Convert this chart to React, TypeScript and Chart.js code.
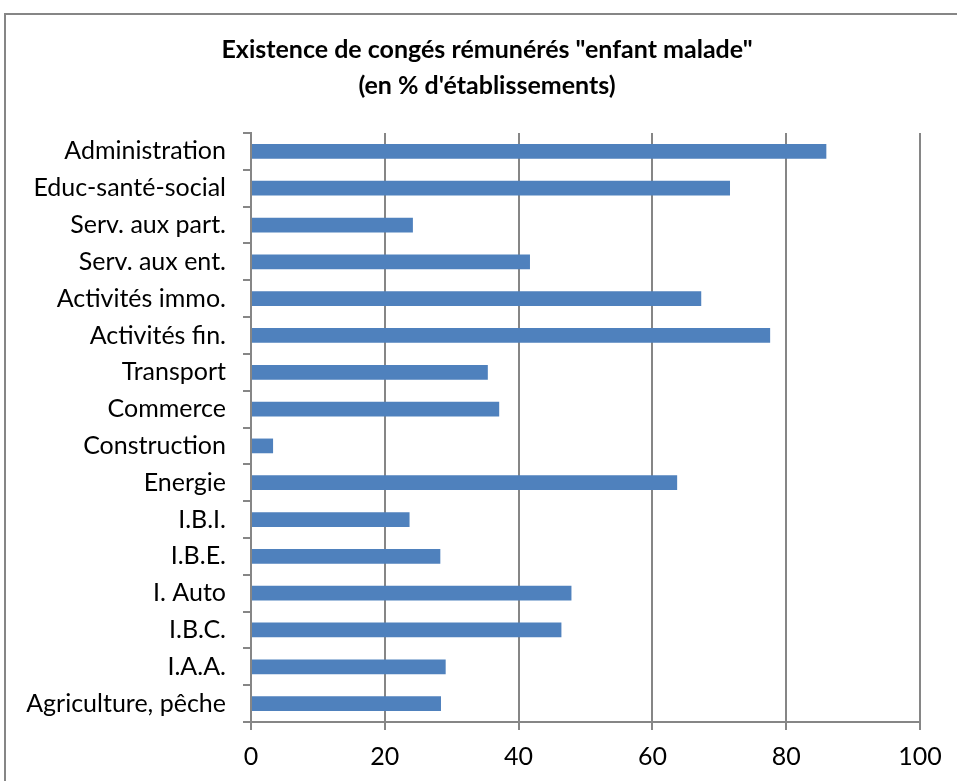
import React, { useEffect, useRef } from 'react';
import { Chart, registerables } from 'chart.js';

Chart.register(...registerables);

const categories = [
  'Administration',
  'Educ-santé-social',
  'Serv. aux part.',
  'Serv. aux ent.',
  'Activités immo.',
  'Activités fin.',
  'Transport',
  'Commerce',
  'Construction',
  'Energie',
  'I.B.I.',
  'I.B.E.',
  'I. Auto',
  'I.B.C.',
  'I.A.A.',
  'Agriculture, pêche',
];

const values = [86.0, 71.6, 24.2, 41.7, 67.3, 77.6, 35.4, 37.1, 3.3, 63.7, 23.7, 28.3, 47.9, 46.4, 29.1, 28.4];

const titleLines = ['Existence de congés rémunérés "enfant malade"', "(en % d'établissements)"];

const xMin = 0;
const xMax = 100;
const xStep = 20;

const FONT = 'Lato, "Open Sans", sans-serif';
const GRID = '#868686';

const framePlugin = {
  id: 'frameAndTitle',
  beforeDraw(chart: any) {
    const { ctx, width, height } = chart;
    ctx.save();
    ctx.fillStyle = '#ffffff';
    ctx.fillRect(0, 0, width, height);
    ctx.strokeStyle = GRID;
    ctx.lineWidth = 2;
    ctx.beginPath();
    ctx.moveTo(5, height + 5);
    ctx.lineTo(5, 14);
    ctx.lineTo(width + 5, 14);
    ctx.stroke();
    ctx.restore();
  },
  afterDraw(chart: any) {
    const { ctx } = chart;
    ctx.save();
    ctx.fillStyle = '#000000';
    ctx.font = `bold 25px ${FONT}`;
    ctx.textAlign = 'center';
    ctx.textBaseline = 'middle';
    ctx.fillText(titleLines[0], 487, 50);
    ctx.fillText(titleLines[1], 487, 86);
    ctx.restore();
  },
};

export default function App() {
  const canvasRef = useRef<HTMLCanvasElement | null>(null);

  useEffect(() => {
    if (!canvasRef.current) return;
    const chart = new Chart(canvasRef.current, {
      type: 'bar',
      data: {
        labels: categories,
        datasets: [
          {
            data: values,
            backgroundColor: '#4F81BD',
            borderWidth: 0,
            barPercentage: 0.4,
            categoryPercentage: 1,
          },
        ],
      },
      options: {
        indexAxis: 'y',
        animation: false,
        responsive: false,
        maintainAspectRatio: false,
        layout: { padding: { top: 133, right: 37, left: 0, bottom: 0 } },
        plugins: {
          legend: { display: false },
          title: { display: false },
          tooltip: { enabled: false },
        },
        scales: {
          x: {
            type: 'linear',
            position: 'bottom',
            min: xMin,
            max: xMax,
            ticks: {
              stepSize: xStep,
              color: '#000000',
              font: { family: FONT, size: 25 },
              padding: 12,
            },
            grid: {
              color: GRID,
              lineWidth: 2,
              tickLength: 8,
              drawTicks: true,
            },
            border: { display: true, color: GRID, width: 2 },
            afterFit: (scale: any) => {
              scale.height = 59;
            },
          },
          y: {
            type: 'category',
            ticks: {
              color: '#000000',
              font: { family: FONT, size: 25 },
              padding: 17,
              autoSkip: false,
            },
            grid: {
              offset: true,
              drawOnChartArea: false,
              drawTicks: true,
              tickLength: 8,
              color: GRID,
              lineWidth: 2,
            },
            border: { display: true, color: GRID, width: 2 },
            afterFit: (scale: any) => {
              scale.width = 251;
            },
          },
        },
      },
      plugins: [framePlugin],
    });
    return () => chart.destroy();
  }, []);

  return (
    <div style={{ position: 'fixed', left: 0, top: 0, width: 957, height: 781, background: '#fff' }}>
      <canvas ref={canvasRef} width={957} height={781} style={{ display: 'block' }} />
    </div>
  );
}
